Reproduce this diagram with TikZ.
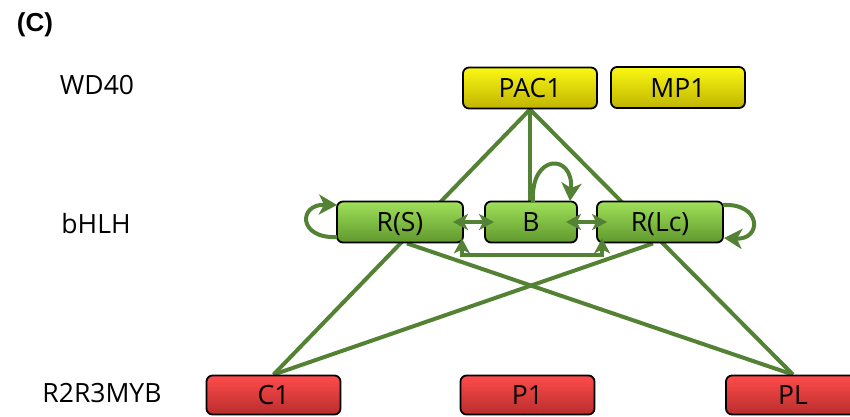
\documentclass[tikz,border=0pt]{standalone}
\usepackage{fontspec}
\setmainfont{Open Sans}
\newfontfamily\panelfont{Liberation Sans}
\usetikzlibrary{arrows.meta}
\pgfdeclarelayer{bg}
\pgfsetlayers{bg,main}
\definecolor{linkgreen}{RGB}{84,130,53}
\definecolor{ytop}{RGB}{250,248,20}
\definecolor{ybot}{RGB}{192,180,0}
\definecolor{gtop}{RGB}{160,225,90}
\definecolor{gbot}{RGB}{95,152,45}
\definecolor{rtop}{RGB}{255,75,75}
\definecolor{rbot}{RGB}{185,45,45}
\begin{document}
\begin{tikzpicture}[x=1pt,y=-1pt,
  gene/.style={draw=black,line width=1.8pt,rounded corners=6pt,inner sep=0pt,
    minimum height=41pt,text height=19pt,text depth=0pt,
    font=\fontsize{26.5}{30}\selectfont},
  wdbox/.style={gene,minimum width=134pt,top color=ytop,bottom color=ybot},
  bhbox/.style={gene,top color=gtop,bottom color=gbot},
  mybbox/.style={gene,minimum width=134pt,minimum height=39pt,top color=rtop,bottom color=rbot},
  rowlabel/.style={font=\fontsize{26.5}{30}\selectfont,text height=19pt,text depth=0pt},
  link/.style={draw=linkgreen,line width=4pt},
  tipend/.style={-{Stealth[length=18pt,width=20pt,inset=5pt]}},
  tipboth/.style={{Stealth[length=15pt,width=16pt,inset=4pt]}-{Stealth[length=15pt,width=16pt,inset=4pt]}}
]
\useasboundingbox (0,0) rectangle (850,416);

% panel tag and row labels
\node[font=\panelfont\bfseries\fontsize{26}{30}\selectfont] (tag) at (35,25) {(C)};
\node[rowlabel] (lwd) at (97,85) {WD40};
\node[rowlabel] (lbh) at (96,224) {bHLH};
\node[rowlabel] (lmyb) at (102,393) {R2R3MYB};

% WD40 proteins
\node[wdbox] (PAC1) at (530,88) {PAC1};
\node[wdbox] (MP1) at (678,87.5) {MP1};

% bHLH proteins
\node[bhbox,minimum width=126pt] (RS) at (400,222) {R(S)};
\node[bhbox,minimum width=92pt] (B) at (531,222) {B};
\node[bhbox,minimum width=126pt] (RLc) at (660,222) {R(Lc)};

% R2R3MYB proteins
\node[mybbox] (C1) at (273.5,395) {C1};
\node[mybbox] (P1) at (527.5,395) {P1};
\node[mybbox] (PL) at (793,395) {PL};

% interaction lines, behind the boxes
\begin{pgfonlayer}{bg}
  \draw[link] (C1.north) -- (PAC1.south) -- (PL.north);
  \draw[link] (PAC1.south) -- (PAC1.south |- B.north);
  \draw[link] ([xshift=7pt]RS.south) -- (PL.north);
  \draw[link] ([xshift=-7pt]RLc.south) -- (C1.north);
\end{pgfonlayer}

% self interactions
\draw[link,tipend] (337,237) .. controls (298,239) and (298,204) .. (337,205);
\draw[link,tipend] (723,205) .. controls (762,203) and (762,240) .. (724,238);
\draw[link,tipend] (533,202) .. controls (530,153) and (574,153) .. (570,201);

% bHLH dimers
\draw[link,tipboth] ([xshift=-11pt]RS.east) -- ([xshift=10pt]B.west);
\draw[link,tipboth] ([xshift=-12pt]B.east) -- ([xshift=11pt]RLc.west);
\coordinate (bl) at ([xshift=-2pt,yshift=5pt]RS.south east);
\coordinate (br) at ([xshift=6pt,yshift=5pt]RLc.south west);
\draw[link,tipboth] (bl) -- ([yshift=-17pt]bl) -| (br);
\end{tikzpicture}
\end{document}
